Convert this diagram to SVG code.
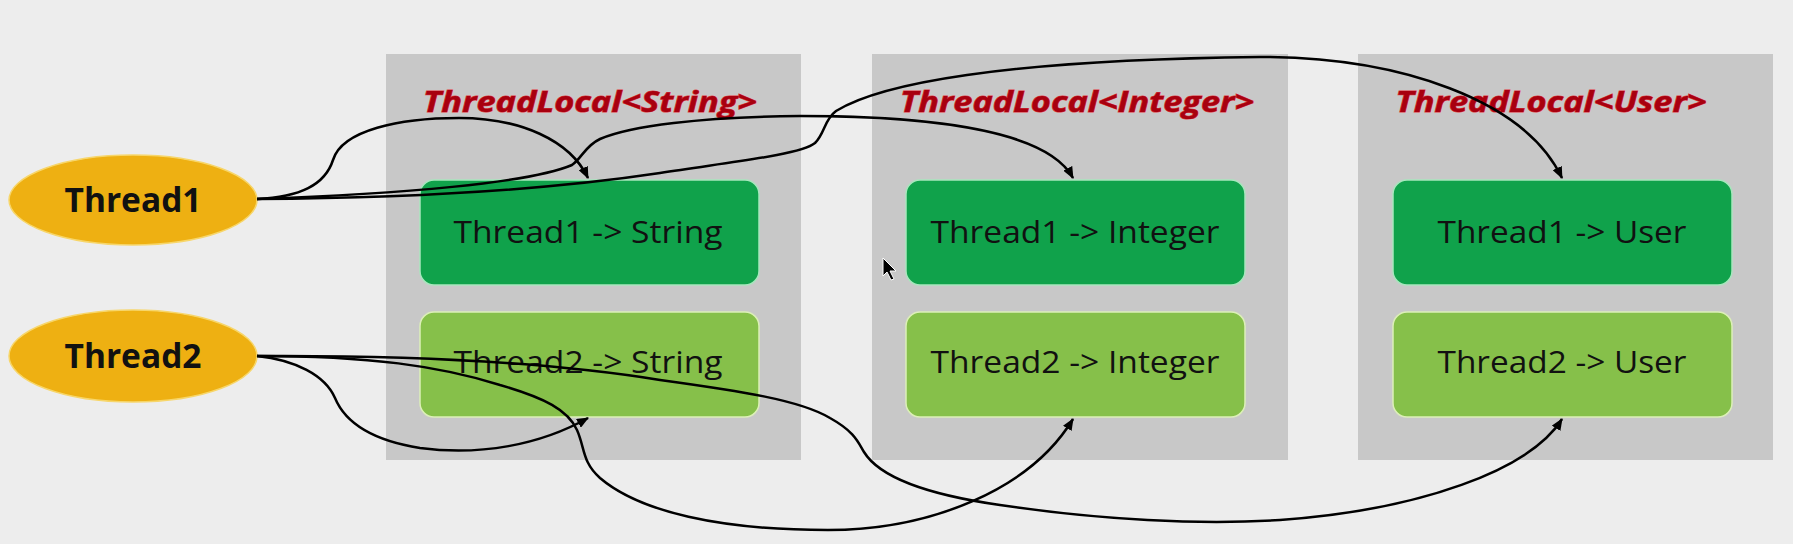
<svg xmlns="http://www.w3.org/2000/svg" width="1793" height="544" viewBox="0 0 1793 544">
<defs>
<style>
.panel{fill:#c8c8c8}
.dark{fill:#10a24b;stroke:#a8e6bd;stroke-width:1.5}
.light{fill:#86c04a;stroke:#dcefb8;stroke-width:1.5}
.thread{fill:#eeb012;stroke:#f7d66a;stroke-width:1.5}
.ttext{font-family:"Open Sans","Noto Sans",sans-serif;font-weight:bold;font-size:34px;fill:#111;text-anchor:middle}
.btext{font-family:"Open Sans","Noto Sans",sans-serif;font-size:31px;fill:#111;text-anchor:middle}
.title{font-family:"Open Sans","Noto Sans",sans-serif;font-weight:bold;font-style:italic;font-size:29px;fill:#a8000f;stroke:#e23a44;stroke-width:1;paint-order:stroke;text-anchor:middle}
.conn{fill:none;stroke:#000;stroke-width:2.5;marker-end:url(#arr)}
</style>
<marker id="arr" viewBox="0 0 12 10" refX="11" refY="5" markerWidth="12" markerHeight="10" markerUnits="userSpaceOnUse" orient="auto">
<path d="M0,0 L12,5 L0,10 z" fill="#000"/>
</marker>
</defs>
<rect width="1793" height="544" fill="#ededed"/>

<g id="panel-string">
<rect class="panel" x="386" y="54" width="415" height="406"/>
<text class="title" x="590" y="112" textLength="334" lengthAdjust="spacingAndGlyphs">ThreadLocal&lt;String&gt;</text>
</g>
<g id="panel-integer">
<rect class="panel" x="872" y="54" width="416" height="406"/>
<text class="title" x="1077" y="112" textLength="354" lengthAdjust="spacingAndGlyphs">ThreadLocal&lt;Integer&gt;</text>
</g>
<g id="panel-user">
<rect class="panel" x="1358" y="54" width="415" height="406"/>
<text class="title" x="1551" y="112" textLength="311" lengthAdjust="spacingAndGlyphs">ThreadLocal&lt;User&gt;</text>
</g>

<g id="t1-string"><rect class="dark" x="420" y="180" width="339" height="105" rx="14"/><text class="btext" x="588" y="243" textLength="269" lengthAdjust="spacingAndGlyphs">Thread1 -&gt; String</text></g>
<g id="t2-string"><rect class="light" x="420" y="312" width="339" height="105" rx="14"/><text class="btext" x="588" y="373" textLength="269" lengthAdjust="spacingAndGlyphs">Thread2 -&gt; String</text></g>
<g id="t1-integer"><rect class="dark" x="906" y="180" width="339" height="105" rx="14"/><text class="btext" x="1075" y="243" textLength="289" lengthAdjust="spacingAndGlyphs">Thread1 -&gt; Integer</text></g>
<g id="t2-integer"><rect class="light" x="906" y="312" width="339" height="105" rx="14"/><text class="btext" x="1075" y="373" textLength="289" lengthAdjust="spacingAndGlyphs">Thread2 -&gt; Integer</text></g>
<g id="t1-user"><rect class="dark" x="1393" y="180" width="339" height="105" rx="14"/><text class="btext" x="1562" y="243" textLength="249" lengthAdjust="spacingAndGlyphs">Thread1 -&gt; User</text></g>
<g id="t2-user"><rect class="light" x="1393" y="312" width="339" height="105" rx="14"/><text class="btext" x="1562" y="373" textLength="249" lengthAdjust="spacingAndGlyphs">Thread2 -&gt; User</text></g>

<g id="thread1"><ellipse class="thread" cx="133" cy="200" rx="124" ry="45"/><text class="ttext" x="133" y="212" textLength="137" lengthAdjust="spacingAndGlyphs">Thread1</text></g>
<g id="thread2"><ellipse class="thread" cx="133" cy="356" rx="124" ry="46"/><text class="ttext" x="133" y="368" textLength="137" lengthAdjust="spacingAndGlyphs">Thread2</text></g>

<g id="connectors">
<path class="conn" d="M257,199 C300,197 325,185 333,160 C342,130 400,118 459,118 C520,118 570,140 588,178"/>
<path class="conn" d="M257,199 C400,194 530,183 572,165 C582,158 585,146 600,139 C630,126 700,117 800,116 C950,116 1050,135 1073,178"/>
<path class="conn" d="M257,199 C420,198 560,188 660,173 C730,162 800,155 815,143 C825,133 824,120 836,111 C880,84 1000,60 1260,57 C1400,57 1525,100 1562,178"/>
<path class="conn" d="M257,356 C295,360 325,375 335,398 C345,422 370,440 420,448 C480,456 540,445 588,418"/>
<path class="conn" d="M257,356 C370,356 440,366 500,385 C545,398 568,410 577,430 C585,448 582,462 600,478 C640,512 720,530 828,530 C930,530 1030,490 1073,419"/>
<path class="conn" d="M257,356 C420,355 560,364 660,380 C740,391 800,400 830,418 C855,432 858,442 864,452 C880,478 930,495 1000,505 C1100,520 1200,525 1280,520 C1420,510 1530,470 1562,419"/>
</g>

<polygon points="883,258 883,276 887,272 891,280 894,279 890,271 896,271" fill="#000" stroke="#fff" stroke-width="1"/>
</svg>
